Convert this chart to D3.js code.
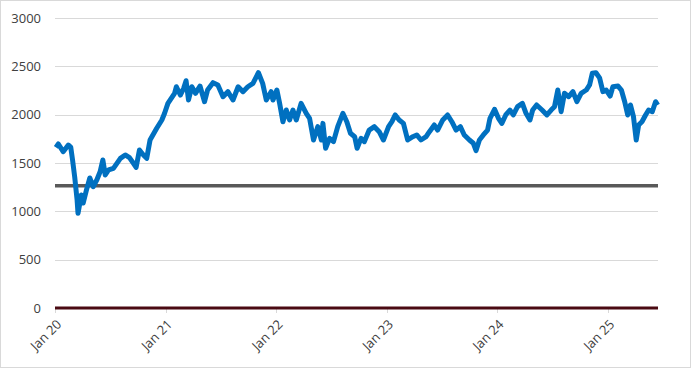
<!DOCTYPE html>
<html>
<head>
<meta charset="utf-8">
<script src="https://cdn.jsdelivr.net/npm/d3@7"></script>
<style>
    body { margin: 0; background: #fff; }
    .tickLabel { font-family: "Open Sans", sans-serif; font-size: 13px; fill: #404040; }
</style>
</head>
<body>
<script>
//series dates (roughly two points per month)
var dates = [
    "2020-01-04","2020-01-12","2020-01-28","2020-02-14","2020-02-22","2020-02-28","2020-03-06","2020-03-14",
    "2020-03-17","2020-03-28","2020-04-03","2020-04-14","2020-04-25","2020-05-06","2020-05-18","2020-05-29",
    "2020-06-07","2020-06-15","2020-06-26","2020-07-12","2020-08-04","2020-08-20","2020-09-03","2020-09-16",
    "2020-09-25","2020-10-06","2020-10-19","2020-10-30","2020-11-10","2020-12-02","2020-12-19","2020-12-28",
    "2021-01-08","2021-01-19","2021-01-30","2021-02-05","2021-02-18","2021-03-01","2021-03-09","2021-03-17",
    "2021-03-28","2021-04-09","2021-04-24","2021-05-09","2021-05-19","2021-06-06","2021-06-22","2021-07-09",
    "2021-07-25","2021-08-11","2021-08-28","2021-09-13","2021-09-29","2021-10-16","2021-11-03","2021-11-17",
    "2021-11-29","2021-12-15","2021-12-21","2022-01-03","2022-01-12","2022-01-23","2022-02-03","2022-02-14",
    "2022-02-25","2022-03-08","2022-03-24","2022-04-10","2022-04-21","2022-05-04","2022-05-18","2022-05-30",
    "2022-06-04","2022-06-13","2022-06-26","2022-07-09","2022-07-23","2022-08-09","2022-08-22","2022-09-03",
    "2022-09-17","2022-09-25","2022-10-08","2022-10-19","2022-11-04","2022-11-21","2022-12-07","2022-12-21",
    "2023-01-07","2023-01-18","2023-01-29","2023-02-11","2023-02-25","2023-03-11","2023-03-28","2023-04-10",
    "2023-04-24","2023-05-11","2023-05-22","2023-06-07","2023-06-18","2023-07-05","2023-07-21","2023-08-04",
    "2023-08-18","2023-09-01","2023-09-14","2023-10-01","2023-10-14","2023-10-23","2023-11-03","2023-11-16",
    "2023-11-30","2023-12-08","2023-12-23","2024-01-05","2024-01-16","2024-01-29","2024-02-12","2024-02-23",
    "2024-03-08","2024-03-24","2024-04-05","2024-04-18","2024-04-27","2024-05-10","2024-05-28","2024-06-13",
    "2024-06-27","2024-07-08","2024-07-19","2024-07-30","2024-08-10","2024-08-24","2024-09-07","2024-09-20",
    "2024-10-04","2024-10-21","2024-11-01","2024-11-10","2024-11-22","2024-12-04","2024-12-15","2024-12-26",
    "2025-01-08","2025-01-17","2025-02-03","2025-02-14","2025-02-25","2025-03-07","2025-03-16","2025-03-26",
    "2025-04-04","2025-04-12","2025-04-23","2025-05-05","2025-05-15","2025-05-27","2025-06-07","2025-06-14"
];

//series values, same order as dates
var values = [
    1662,1697,1617,1686,1665,1531,1358,1117,
    980,1169,1086,1221,1345,1255,1324,1410,
    1531,1376,1428,1445,1548,1583,1555,1497,
    1455,1634,1583,1548,1738,1859,1945,2014,
    2117,2169,2221,2289,2203,2272,2351,2152,
    2289,2221,2296,2134,2255,2331,2307,2186,
    2238,2152,2289,2238,2289,2324,2434,2324,
    2152,2238,2152,2255,2117,1927,2048,1945,
    2048,1945,2117,2014,1962,1738,1876,1738,
    1910,1652,1755,1721,1876,2014,1927,1807,
    1772,1652,1755,1721,1841,1876,1824,1738,
    1876,1927,1997,1945,1910,1738,1772,1790,
    1738,1772,1824,1893,1841,1945,1997,1927,
    1841,1876,1790,1738,1704,1628,1738,1790,
    1841,1962,2055,1962,1910,1997,2048,1997,
    2083,2117,2014,1945,2048,2100,2048,1997,
    2048,2083,2255,2031,2221,2186,2238,2134,
    2221,2255,2307,2428,2434,2380,2238,2255,
    2193,2289,2296,2255,2134,1997,2100,1979,
    1738,1893,1927,1997,2048,2031,2134,2100
];

//reference lines
var baseline = 1265;
var zeroLine = 0;

//axis ticks
var yTicks = [0, 500, 1000, 1500, 2000, 2500, 3000];
var xTicks = ["2020-01-01","2021-01-01","2022-01-01","2023-01-01","2024-01-01","2025-01-01"];
var xTickLabels = ["Jan 20","Jan 21","Jan 22","Jan 23","Jan 24","Jan 25"];

window.onload = setChart();

function setChart(){

    var width = 691,
        height = 368;

    var parse = d3.timeParse("%Y-%m-%d");

    var svg = d3.select("body")
        .append("svg")
        .attr("width", width)
        .attr("height", height);

    //outer chart border
    svg.append("rect")
        .attr("x", 0.5)
        .attr("y", 0.5)
        .attr("width", width - 1)
        .attr("height", height - 1)
        .attr("fill", "#fff")
        .attr("stroke", "#d9d9d9");

    var x = d3.scaleTime()
        .domain([parse("2020-01-01"), parse("2025-06-15")])
        .range([55, 658]);

    var y = d3.scaleLinear()
        .domain([0, 3000])
        .range([308, 18]);

    //horizontal gridlines
    svg.selectAll(".grid")
        .data(yTicks.filter(function(d){ return d > 0; }))
        .enter()
        .append("line")
        .attr("class", "grid")
        .attr("x1", x.range()[0])
        .attr("x2", x.range()[1])
        .attr("y1", function(d){ return Math.round(y(d)) + 0.5; })
        .attr("y2", function(d){ return Math.round(y(d)) + 0.5; })
        .attr("stroke", "#d9d9d9")
        .attr("stroke-width", 1);

    //y tick labels
    svg.selectAll(".yLabel")
        .data(yTicks)
        .enter()
        .append("text")
        .attr("class", "tickLabel")
        .attr("x", 41)
        .attr("y", function(d){ return y(d); })
        .attr("dy", "0.35em")
        .attr("text-anchor", "end")
        .text(function(d){ return d; });

    //x tick marks
    svg.selectAll(".xTick")
        .data(xTicks)
        .enter()
        .append("line")
        .attr("x1", function(d){ return Math.round(x(parse(d))) + 0.5; })
        .attr("x2", function(d){ return Math.round(x(parse(d))) + 0.5; })
        .attr("y1", y(0))
        .attr("y2", y(0) + 5)
        .attr("stroke", "#d9d9d9");

    //x tick labels, rotated
    svg.selectAll(".xLabel")
        .data(xTicks)
        .enter()
        .append("text")
        .attr("class", "tickLabel")
        .attr("text-anchor", "end")
        .attr("transform", function(d){
            return "translate(" + (x(parse(d)) + 4) + "," + (y(0) + 14) + ") rotate(-45)";
        })
        .attr("dy", "0.35em")
        .text(function(d, i){ return xTickLabels[i]; });

    //zero line
    svg.append("line")
        .attr("x1", x.range()[0])
        .attr("x2", x.range()[1])
        .attr("y1", y(zeroLine))
        .attr("y2", y(zeroLine))
        .attr("stroke", "#4a0a12")
        .attr("stroke-width", 3);

    //gray reference line
    svg.append("line")
        .attr("x1", x.range()[0])
        .attr("x2", x.range()[1])
        .attr("y1", y(baseline))
        .attr("y2", y(baseline))
        .attr("stroke", "#595959")
        .attr("stroke-width", 3.5);

    //main series
    var series = dates.map(function(d, i){ return { date: parse(d), value: values[i] }; });

    var line = d3.line()
        .x(function(d){ return x(d.date); })
        .y(function(d){ return y(d.value); });

    svg.append("path")
        .datum(series)
        .attr("fill", "none")
        .attr("stroke", "#0070c0")
        .attr("stroke-width", 5)
        .attr("stroke-linejoin", "round")
        .attr("d", line);
}
</script>
</body>
</html>
